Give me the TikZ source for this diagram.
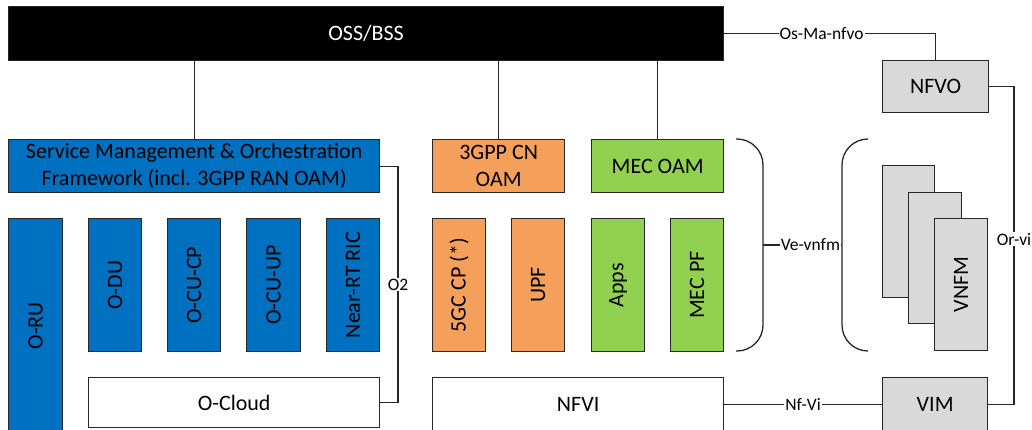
\documentclass[tikz,border=0pt]{standalone}
\usepackage{fontspec}
\usepackage{graphicx}
\setmainfont{Carlito}
\definecolor{oblue}{HTML}{0070C0}
\definecolor{oorange}{HTML}{F5A05A}
\definecolor{ogreen}{HTML}{92D050}
\definecolor{ogray}{HTML}{D9D9D9}
\definecolor{edge}{HTML}{262626}
\begin{document}
\begin{tikzpicture}[x=1pt,y=-1pt,
  box/.style={draw=edge, line width=1.3pt, inner sep=0pt, align=center,
    font=\fontsize{22}{27}\selectfont, anchor=north west},
  lbl/.style={fill=white, inner sep=1pt, font=\fontsize{17.5}{20}\selectfont},
  conn/.style={draw=edge, line width=1.3pt}]
\useasboundingbox (0,0) rectangle (1032,429);
\clip (0,0) rectangle (1032,429);
% top
\node[box, fill=black, text=white, minimum width=715, minimum height=54] (oss) at (8,6) {OSS/BSS};
% RAN side
\node[box, fill=oblue, minimum width=371, minimum height=53] (smo) at (8,139) {Service Management \& Orchestration\\Framework (incl. 3GPP RAN OAM)};
\node[box, fill=oblue, minimum width=54, minimum height=214] (oru) at (8,218) {\rotatebox{90}{O-RU}};
\node[box, fill=oblue, minimum width=53, minimum height=133] (odu) at (88,218) {\rotatebox{90}{O-DU}};
\node[box, fill=oblue, minimum width=53, minimum height=133] (ocucp) at (167,218) {\rotatebox{90}{O-CU-CP}};
\node[box, fill=oblue, minimum width=54, minimum height=133] (ocuup) at (246,218) {\rotatebox{90}{O-CU-UP}};
\node[box, fill=oblue, minimum width=53, minimum height=133] (ric) at (326,218) {\rotatebox{90}{Near-RT RIC}};
\node[box, fill=white, minimum width=291, minimum height=50] (ocloud) at (88,377) {O-Cloud};
% CN / MEC
\node[box, fill=oorange, minimum width=132, minimum height=53] (cnoam) at (432,139) {3GPP CN\\OAM};
\node[box, fill=ogreen, minimum width=132, minimum height=53] (mecoam) at (591,139) {MEC OAM};
\node[box, fill=oorange, minimum width=53, minimum height=133] (gccp) at (432,218) {\rotatebox{90}{5GC CP (*)}};
\node[box, fill=oorange, minimum width=53, minimum height=133] (upf) at (511,218) {\rotatebox{90}{UPF}};
\node[box, fill=ogreen, minimum width=53, minimum height=133] (apps) at (591,218) {\rotatebox{90}{Apps}};
\node[box, fill=ogreen, minimum width=53, minimum height=133] (mecpf) at (670,218) {\rotatebox{90}{MEC PF}};
\node[box, fill=white, minimum width=291, minimum height=53] (nfvi) at (432,377) {NFVI};
% MANO
\node[box, fill=ogray, minimum width=106, minimum height=52] (nfvo) at (882,60) {NFVO};
\node[box, fill=ogray, minimum width=52, minimum height=132] (vnfma) at (882,165) {};
\node[box, fill=ogray, minimum width=53, minimum height=131] (vnfmb) at (908,192) {};
\node[box, fill=ogray, minimum width=53, minimum height=132] (vnfm) at (934,218) {\rotatebox{90}{VNFM}};
\node[box, fill=ogray, minimum width=105, minimum height=53] (vim) at (882,377) {VIM};
% connectors
\draw[conn] (smo.north) -- (smo.north |- oss.south);
\draw[conn] (cnoam.north) -- (cnoam.north |- oss.south);
\draw[conn] (mecoam.north) -- (mecoam.north |- oss.south);
\draw[conn] (oss.east) -- node[lbl, pos=0.46]{Os-Ma-nfvo} (oss.east -| nfvo.north) -- (nfvo.north);
\coordinate (orx) at (1014,0);
\draw[conn] (nfvo.east) -- (nfvo.east -| orx) -- node[lbl, pos=0.48]{Or-vi} (vim.east -| orx) -- (vim.east);
\coordinate (o2x) at (398,0);
\draw[conn] (smo.east) -- (smo.east -| o2x) -- node[lbl, pos=0.5]{O2} (ocloud.east -| o2x) -- (ocloud.east);
\draw[conn] (nfvi.east) -- node[lbl]{Nf-Vi} (vim.west);
% brackets
\draw[conn, rounded corners=26pt] (736,139) -- (763,139) -- (763,351) -- (736,351);
\draw[conn, rounded corners=26pt] (868,139) -- (842,139) -- (842,351) -- (868,351);
\coordinate (rb) at (763,245);
\coordinate (lb) at (842,245);
\draw[conn] (rb) -- node[lbl, pos=0.6]{Ve-vnfm} (lb);
\end{tikzpicture}
\end{document}
